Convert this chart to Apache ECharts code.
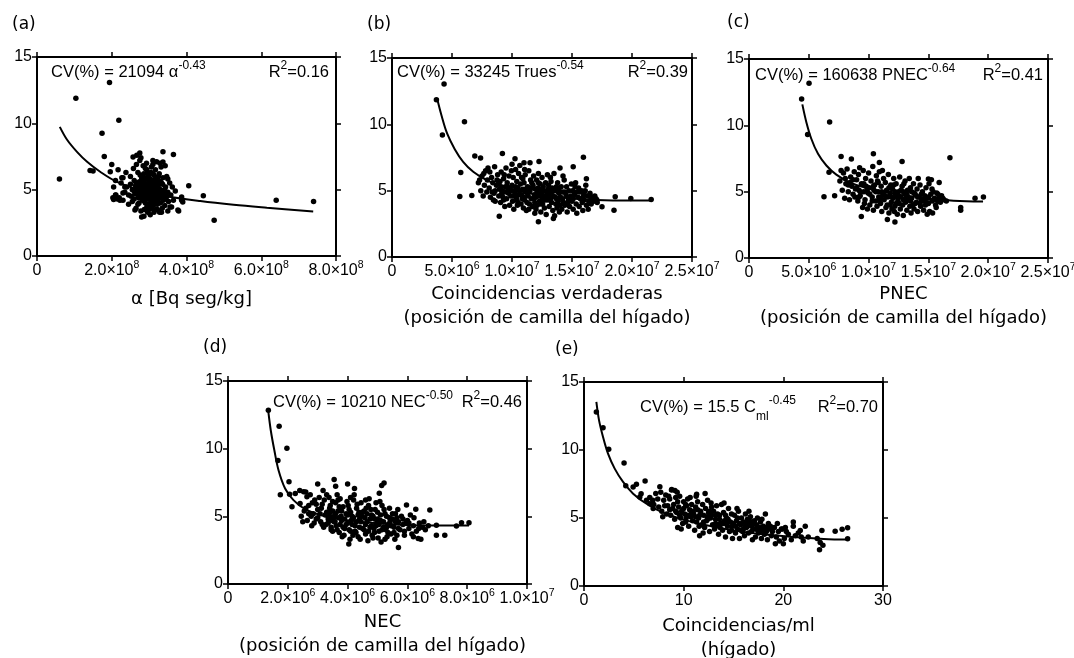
<!DOCTYPE html>
<html>
<head>
<meta charset="utf-8">
<script src="https://cdn.jsdelivr.net/npm/echarts/dist/echarts.min.js"></script>
<style>html,body{margin:0;padding:0;background:#fff}#c{width:1074px;height:658px}</style>
</head>
<body>
<div id="c"></div>
<script>
// ---------- DATA (x in units of the panel's unit, y = CV %) ----------
const unitA = 1e8, unitB = 1e6, unitC = 1e6, unitD = 1e6, unitE = 1;

const ptsA = [
 [0.6,5.8],[1.04,11.9],[1.94,13.07],[2.19,10.23],[1.74,9.25],[1.8,7.5],[1.42,6.45],[1.5,6.4],[2.0,6.9],[1.96,6.35],[2.1,5.7],
 [3.65,7.65],[3.37,7.85],[4.06,5.3],[4.45,4.55],[4.74,2.7],[6.4,4.2],[7.4,4.1],[3.87,4.45],[3.87,4.2],[3.79,3.4],[2.05,4.25],
 [2.17,6.5],[2.27,5.9],[2.03,4.4],[2.11,4.6],[2.22,4.2],[2.35,5.2],[2.3,4.75],[2.57,7.46],[2.67,7.6],[2.75,7.76],[3.1,7.2],
 [3.37,7.08],[3.5,5.8],[3.9,4.07],[3.77,3.47],[3.56,3.69],[2.8,2.94],[2.62,3.47],
 [2.2,4.4],[2.25,5.5],[2.3,4.2],[2.35,4.8],[2.4,5.2],[2.45,3.9],[2.5,6.0],[2.45,4.6],[2.3,5.9],[2.15,4.3],[2.38,6.3],[2.5,5.4],
 [2.55,4.1],[2.6,5.7],[2.62,4.7],[2.65,3.6],[2.7,6.3],[2.68,5.1],[2.72,4.4],[2.75,7.2],[2.78,3.4],[2.8,5.5],[2.58,6.6],[2.64,5.3],[2.7,3.9],[2.76,6.1],[2.8,4.9],[2.73,4.0],[2.66,6.9],[2.78,7.4],
 [2.82,4.2],[2.85,5.9],[2.86,3.0],[2.88,4.8],[2.9,6.6],[2.92,5.2],[2.94,3.7],[2.95,4.5],[2.97,6.0],[2.98,5.5],[2.84,6.8],[2.9,4.0],[2.96,3.3],[2.88,5.3],[2.93,7.0],[2.99,4.9],[2.83,5.1],[2.87,3.5],
 [3.0,4.3],[3.02,5.8],[3.03,3.1],[3.05,6.3],[3.07,4.7],[3.08,5.2],[3.1,3.8],[3.1,6.9],[3.12,4.9],[3.14,5.6],[3.15,4.1],[3.17,6.5],[3.18,3.5],[3.19,5.0],[3.01,5.0],[3.04,4.0],[3.06,6.7],[3.11,4.4],[3.13,3.3],[3.16,5.3],[3.2,7.1],[3.09,5.5],[3.0,6.1],[3.2,4.6],
 [3.22,3.9],[3.24,5.7],[3.25,4.4],[3.27,6.2],[3.28,3.3],[3.3,5.0],[3.3,4.0],[3.32,6.7],[3.34,4.7],[3.35,3.6],[3.36,5.4],[3.38,4.2],[3.23,4.9],[3.26,5.1],[3.29,7.0],[3.33,3.3],[3.37,5.9],[3.4,4.5],
 [3.42,3.8],[3.44,5.2],[3.45,4.3],[3.47,6.0],[3.5,4.8],[3.5,3.4],[3.52,4.1],[3.55,5.5],[3.58,4.6],[3.6,3.7],[3.48,4.5],[3.43,6.8],
 [2.1,4.6],[2.05,5.2],[2.6,4.3],[2.55,5.0],[3.65,4.2],[3.7,4.9],[3.62,5.2],
 [2.78,5.2],[2.82,4.6],[2.85,5.5],[2.88,4.1],[2.9,5.8],[2.92,4.4],[2.95,5.1],[2.97,4.7],[3.0,5.4],[3.02,4.5],[3.04,5.0],[3.06,4.2],[3.08,5.7],[3.1,4.9],[3.12,5.3],[3.14,4.6],[3.16,5.9],[3.18,4.3],[3.2,5.2],[3.22,4.7],[3.24,5.4],[3.26,4.5],[3.28,5.0],[3.3,5.6],
 [2.8,5.9],[2.84,4.4],[2.9,5.0],[2.96,6.3],[3.03,4.8],[3.07,3.6],[3.13,6.1],[3.19,4.0],[3.25,6.0],[3.15,3.9],[2.98,3.8],[3.05,5.3],[3.35,4.9],[3.33,5.5],[2.7,4.6],[2.74,5.6],[2.68,4.9],[2.65,5.5],[2.94,6.5],[3.0,3.5],[3.22,3.5],[3.1,6.2],[2.86,6.2],
 [2.86,5.7],[2.9,4.6],[2.94,5.4],[2.98,4.3],[3.01,5.6],[3.05,4.6],[3.09,5.0],[3.12,4.2],[3.15,5.4],[3.18,4.8],[3.21,5.6],[3.23,4.2],[3.27,4.8],[3.31,4.4],[2.83,4.8],[2.87,4.4],[2.93,4.8],[3.0,4.6],[3.06,5.1],[3.17,5.1],[3.13,4.6],[2.96,5.3],[3.26,5.5],[2.76,4.8],[2.72,5.3],[3.36,4.4],[3.41,5.0],[3.46,4.8],[2.6,4.9],[2.52,4.5]
];
const fitA = [[0.61,9.73],[0.80,8.78],[1.07,7.85],[1.34,7.10],[1.69,6.35],[2.14,5.59],[2.76,4.97],[3.47,4.51],[4.37,4.14],[5.26,3.86],[6.15,3.64],[7.39,3.36]];

const ptsB = [
 [3.70,11.86],[4.34,13.04],[4.2,9.2],[6.04,10.2],[5.73,6.37],[5.65,4.56],[6.9,7.62],[7.38,7.47],[6.65,4.64],[8.94,3.08],[9.2,7.8],[10.25,7.4],[15.95,7.52],[12.25,7.2],[11.0,7.1],[11.5,7.1],[15.1,6.8],[16.2,5.9],[18.6,4.55],[18.5,3.53],[19.9,4.41],[21.6,4.34],[17.5,3.78],[12.2,2.66],[13.45,2.9],[17.07,4.3],[16.56,4.54],
 [7.2,5.6],[7.4,5.0],[7.5,6.1],[7.6,4.6],[7.7,5.4],[7.8,6.5],[7.9,4.9],[7.3,5.8],[7.65,6.3],[7.95,5.8],
 [8.0,6.7],[8.1,5.2],[8.2,4.5],[8.3,6.0],[8.4,5.6],[8.5,4.8],[8.55,6.8],[8.6,4.2],[8.7,5.4],[8.8,6.2],[8.9,4.6],[8.95,5.1],[8.15,6.4],[8.35,4.9],[8.75,5.8],[8.45,4.3],
 [9.0,5.7],[9.05,4.1],[9.1,6.4],[9.2,5.0],[9.25,4.5],[9.3,5.9],[9.4,3.8],[9.45,5.3],[9.5,6.7],[9.55,4.4],[9.6,5.6],[9.7,4.8],[9.75,6.1],[9.8,3.9],[9.85,5.2],[9.9,4.6],[9.95,6.5],[9.15,4.8],[9.65,5.0],[9.35,6.2],
 [10.0,5.4],[10.05,4.2],[10.1,6.0],[10.15,3.6],[10.2,5.0],[10.3,6.6],[10.35,4.5],[10.4,5.7],[10.45,3.9],[10.5,5.2],[10.55,6.3],[10.6,4.7],[10.7,5.5],[10.75,4.0],[10.8,6.0],[10.85,4.4],[10.9,5.1],[10.95,3.7],[10.25,4.8],[10.65,6.9],[10.0,7.0],[10.4,4.3],
 [11.0,5.6],[11.05,4.3],[11.1,6.2],[11.15,4.9],[11.2,3.5],[11.3,5.3],[11.35,4.6],[11.4,6.5],[11.45,4.0],[11.5,5.0],[11.55,5.8],[11.6,4.4],[11.7,3.8],[11.75,5.4],[11.8,6.1],[11.85,4.7],[11.9,3.3],[11.95,5.1],[11.25,4.1],[11.65,5.6],[11.05,6.6],[11.4,3.6],
 [12.0,4.5],[12.05,5.8],[12.1,3.9],[12.15,5.2],[12.2,6.3],[12.3,4.2],[12.35,5.5],[12.4,3.4],[12.45,4.8],[12.5,6.0],[12.55,4.0],[12.6,5.3],[12.7,3.7],[12.75,4.6],[12.8,5.6],[12.85,3.2],[12.9,4.9],[12.95,6.2],[12.25,4.6],[12.65,5.0],[12.0,3.6],[12.5,4.3],
 [13.0,4.3],[13.05,5.4],[13.1,3.8],[13.15,4.9],[13.2,6.0],[13.3,4.1],[13.35,5.2],[13.4,3.5],[13.45,4.6],[13.5,6.3],[13.55,3.1],[13.6,5.0],[13.7,4.4],[13.75,3.7],[13.8,5.6],[13.85,4.2],[13.9,4.8],[13.95,3.4],[13.25,5.7],[13.65,4.0],[14.0,6.7],
 [14.05,4.5],[14.1,5.3],[14.15,3.6],[14.2,4.9],[14.3,4.1],[14.35,5.8],[14.4,3.9],[14.5,4.7],[14.55,5.3],[14.6,3.4],[14.7,4.3],[14.75,5.0],[14.8,3.8],[14.9,4.6],[14.95,5.5],[14.25,6.1],[14.65,4.0],
 [15.0,4.2],[15.05,5.0],[15.1,3.6],[15.2,4.7],[15.3,5.6],[15.35,4.0],[15.4,3.3],[15.5,4.5],[15.55,5.2],[15.6,3.8],[15.7,4.4],[15.8,5.0],[15.85,4.1],[15.9,3.5],[15.25,5.3],[15.65,4.9],[15.95,4.6],
 [16.0,4.3],[16.1,5.0],[16.2,3.9],[16.3,4.6],[16.4,4.2],[16.5,4.8],[16.6,4.0],[16.7,4.5],[16.8,4.2],[17.0,4.4],[17.1,4.1],[16.15,5.4],[16.35,3.6],
 [9.1,5.3],[9.4,4.9],[9.6,5.3],[9.9,5.0],[10.1,4.6],[10.3,5.3],[10.6,5.0],[10.8,4.7],[11.1,5.1],[11.3,4.8],[11.6,5.2],[11.8,4.4],[12.1,4.8],[12.3,5.1],[12.6,4.6],[12.8,4.3],[13.1,4.6],[13.3,4.9],[13.6,4.5],[13.9,5.1],[14.2,4.4],[14.5,4.0],[14.8,4.5],[15.1,4.4],[15.4,4.9],[10.5,4.1],[11.0,4.5],[11.9,4.1],[12.4,4.0],[13.2,4.4],[14.0,3.9],[8.6,5.0],[8.9,5.6],[9.3,4.3],[10.9,5.9],[12.2,5.6],[13.0,5.1],[13.7,5.3],[14.4,4.9],[16.0,4.8],[16.6,4.4],[16.9,4.6]
];
const fitB = [[3.76,11.94],[4.12,10.68],[4.59,9.31],[5.23,8.13],[5.93,7.17],[6.77,6.42],[7.88,5.79],[9.27,5.29],[11.22,4.84],[13.45,4.54],[16.23,4.34],[19.01,4.26],[21.60,4.26]];

const ptsC = [
 [4.40,11.98],[5.02,13.17],[4.9,9.3],[6.74,10.26],[6.69,6.46],[6.27,4.61],[7.16,4.69],[7.7,7.65],[8.56,7.47],[9.39,3.12],[10.4,7.85],[10.9,7.2],[12.8,7.27],[16.8,7.55],[18.9,4.51],[19.6,4.59],[17.7,3.8],[17.7,3.6],[12.2,2.71],[11.57,2.91],[15.9,5.7],[15.0,5.95],
 [7.6,5.8],[7.8,5.1],[7.9,6.4],[8.0,4.5],[8.1,5.6],[8.2,6.7],[8.3,5.0],[8.4,4.4],[8.5,6.1],[8.6,5.4],[8.7,4.8],[8.8,6.5],[8.9,5.2],[8.05,6.0],[8.45,5.7],[8.85,4.6],[7.7,6.6],
 [9.0,5.9],[9.1,4.3],[9.15,6.3],[9.2,5.1],[9.3,4.7],[9.4,5.6],[9.5,3.8],[9.55,6.6],[9.6,5.0],[9.7,4.4],[9.75,6.0],[9.8,5.4],[9.9,3.7],[9.95,4.9],[10.0,6.4],[10.05,5.3],[10.1,4.0],[10.2,5.8],[10.3,4.6],[10.35,6.9],[10.4,3.6],[10.45,5.1],[9.25,6.8],[9.65,4.1],
 [10.5,5.5],[10.6,4.3],[10.65,6.2],[10.7,3.9],[10.8,5.0],[10.85,4.6],[10.9,6.5],[11.0,4.1],[11.05,5.4],[11.1,3.5],[11.2,4.8],[11.25,6.0],[11.3,4.4],[11.4,5.7],[11.45,3.8],[11.5,5.1],[11.6,4.6],[11.65,6.3],[11.7,3.4],[11.8,4.9],[11.85,5.5],[11.9,4.2],[11.95,3.7],[10.75,5.8],[11.15,6.6],[11.55,4.0],
 [12.0,5.2],[12.05,4.5],[12.1,6.0],[12.2,3.9],[12.25,4.8],[12.3,5.6],[12.4,3.3],[12.45,4.3],[12.5,5.0],[12.6,6.1],[12.65,3.7],[12.7,4.6],[12.8,5.4],[12.85,4.0],[12.9,3.2],[13.0,4.9],[13.05,5.8],[13.1,4.2],[13.2,3.6],[13.25,5.1],[13.3,4.6],[13.4,6.0],[13.45,3.9],[12.15,3.5],[12.55,4.1],[12.95,5.6],[13.35,4.4],
 [13.5,5.3],[13.55,3.4],[13.6,4.5],[13.7,4.0],[13.75,5.6],[13.8,3.7],[13.9,4.8],[14.0,4.2],[14.05,5.2],[14.1,3.5],[14.2,4.6],[14.3,5.5],[14.35,3.9],[14.4,4.3],[14.5,5.0],[14.6,3.6],[14.7,4.7],[14.75,4.0],[14.8,5.3],[14.9,3.3],[14.95,4.5],[14.15,6.0],[14.55,4.4],
 [15.0,4.1],[15.05,5.6],[15.1,3.5],[15.2,4.8],[15.3,4.3],[15.35,3.4],[15.4,5.0],[15.5,4.5],[15.6,4.0],[15.7,4.9],[15.8,4.3],[15.9,4.6],[16.0,4.2],[16.1,4.7],[16.3,4.4],[16.5,4.3],[15.25,5.9],[15.65,3.8],
 [9.0,5.3],[9.3,5.0],[9.6,5.6],[9.9,5.2],[10.1,4.8],[10.4,5.4],[10.6,5.0],[10.9,4.4],[11.1,5.0],[11.4,4.7],[11.7,5.3],[11.9,4.6],[12.2,5.0],[12.4,4.6],[12.7,5.1],[12.9,4.4],[13.2,4.8],[13.5,4.3],[13.8,4.9],[14.1,4.6],[14.4,4.8],[14.7,4.3],[15.0,4.6],[15.3,5.2],[15.6,4.4],[10.3,4.3],[11.0,4.6],[11.8,4.0],[12.3,4.1],[13.1,4.5],[13.9,4.1],[8.3,5.5],[8.7,5.9],[9.2,4.6],[10.8,5.7],[12.1,5.5],[12.9,5.0],[13.6,5.0],[14.3,4.1],[15.8,4.8],[16.2,4.5]
];
const fitC = [[4.46,11.58],[4.79,10.26],[5.21,8.99],[5.77,7.85],[6.47,6.97],[7.30,6.28],[8.42,5.70],[9.81,5.27],[11.76,4.89],[13.99,4.59],[16.22,4.38],[18.17,4.28],[19.57,4.26]];

const ptsD = [
 [1.35,12.84],[1.71,11.66],[1.67,9.12],[1.97,10.03],[1.75,6.59],[2.04,7.55],[2.06,6.64],[2.14,5.7],[3.0,7.38],[3.55,7.72],[4.0,7.38],[4.23,7.06],[5.06,6.71],[5.14,7.28],[5.22,7.47],[4.04,2.95],[5.7,2.70],[6.75,5.46],[6.97,4.35],[6.97,3.61],[7.25,3.61],[7.64,4.28],[7.81,4.52],[8.06,4.52],[6.36,3.37],[6.28,5.53],[5.97,5.83],[3.6,7.23],
 [2.25,6.69],[2.41,5.95],[2.53,6.81],[2.64,6.44],
 [2.45,5.0],[2.5,4.6],[2.55,5.4],[2.6,6.8],[2.65,4.7],[2.7,5.8],[2.75,6.6],[2.8,4.3],[2.85,5.2],[2.9,6.2],[2.95,4.8],[2.6,5.6],[2.78,5.0],[2.4,6.9],[2.88,4.5],
 [3.0,5.5],[3.05,6.4],[3.1,4.6],[3.15,5.9],[3.2,4.2],[3.25,5.1],[3.3,6.6],[3.35,4.8],[3.4,5.6],[3.45,4.0],[3.5,6.1],[3.08,5.2],[3.28,4.4],[3.42,5.3],[3.18,6.9],[3.48,4.7],
 [3.55,5.0],[3.6,6.0],[3.62,4.3],[3.68,5.4],[3.72,3.8],[3.75,6.3],[3.8,4.7],[3.85,5.7],[3.9,4.1],[3.95,5.2],[3.58,4.6],[3.78,5.0],[3.98,6.1],[3.88,3.6],[3.65,6.6],
 [4.0,4.5],[4.05,5.5],[4.1,3.9],[4.15,5.0],[4.2,6.2],[4.25,4.3],[4.3,5.6],[4.35,3.5],[4.4,4.8],[4.45,6.0],[4.5,4.1],[4.12,4.7],[4.28,3.8],[4.38,5.3],[4.48,5.0],[4.22,6.6],[4.08,3.3],
 [4.55,5.4],[4.6,3.7],[4.65,4.6],[4.7,5.8],[4.75,4.2],[4.8,5.1],[4.85,3.4],[4.9,4.8],[4.95,6.0],[4.58,4.9],[4.68,3.2],[4.78,5.5],[4.88,4.1],[4.98,4.5],[4.72,6.3],
 [5.0,5.3],[5.05,3.9],[5.1,4.7],[5.15,5.8],[5.2,4.2],[5.25,3.3],[5.3,5.0],[5.35,4.4],[5.4,5.6],[5.45,3.7],[5.5,4.8],[5.12,3.1],[5.28,4.0],[5.42,4.6],[5.08,6.1],
 [5.55,4.2],[5.6,5.2],[5.65,3.6],[5.7,4.6],[5.75,4.0],[5.8,5.0],[5.85,4.4],[5.9,3.9],[6.0,4.7],[6.05,4.1],[6.1,5.1],[6.2,4.3],[6.3,3.9],[6.4,4.5],[6.5,4.2],[6.6,4.0],[5.68,5.5],[5.95,4.5],[6.15,3.7],[6.45,3.3],
 [3.3,5.3],[3.35,4.5],[3.4,5.0],[3.45,4.2],[3.5,5.4],[3.55,4.6],[3.6,5.2],[3.65,4.0],[3.7,4.9],[3.75,4.4],[3.8,5.4],[3.85,4.2],[3.9,4.8],[3.95,4.4],[4.0,5.1],[4.05,4.0],[4.1,5.3],[4.15,4.4],[4.2,4.9],[4.25,3.9],[4.3,4.6],[4.35,5.1],[4.4,4.2],[4.45,4.6],[4.5,5.3],[4.55,4.0],[4.6,4.4],[4.65,5.2],[4.7,3.9],[4.75,4.8],[4.8,4.3],[4.85,5.0],[4.9,3.8],[4.95,4.3],[5.0,4.8],[5.05,4.4],[5.1,5.1],[5.15,4.0],[5.2,4.6],[5.25,5.2],[5.3,4.2],[5.35,3.8],[5.4,4.9],[5.45,4.3],[5.5,5.2],[5.55,3.8],[5.6,4.6],[5.65,4.9],[5.7,4.1],
 [3.42,5.8],[3.72,5.7],[4.02,5.8],[4.32,5.9],[4.62,5.6],[4.92,5.5],[5.22,5.5],[3.5,3.9],[3.82,3.5],[4.18,3.6],[4.42,3.3],[4.82,3.6],[5.02,3.4],[5.32,3.5],[5.58,3.3],[2.95,5.9],[3.12,5.6],[3.22,6.2],[2.7,5.2],[2.82,6.0],[3.0,4.9],[3.15,4.4],[3.38,6.4],[3.68,6.2],[4.1,6.4],[4.6,6.2],[5.85,4.8],[6.05,4.5],[6.22,4.9],[6.38,4.1],[6.55,4.6],[6.7,4.3],[5.9,3.6],[6.2,3.5]
];
const fitD = [[1.35,12.71],[1.43,11.36],[1.55,9.88],[1.69,8.41],[1.91,7.06],[2.19,6.20],[2.58,5.53],[3.19,5.04],[3.97,4.72],[4.97,4.48],[6.08,4.35],[7.20,4.33],[8.06,4.33]];

const ptsE = [
 [1.24,12.79],[1.91,11.64],[2.48,10.05],[4.02,9.04],[4.19,7.38],[5.26,7.48],[6.13,7.72],[5.73,6.79],[6.27,6.3],[7.61,7.3],[8.78,7.06],[9.12,7.03],[11.3,6.74],
 [23.63,2.67],[23.97,2.99],[23.87,4.09],[25.2,4.02],[25.9,4.17],[26.45,4.29],[26.45,3.48],[22.2,4.39],[21.7,4.09],[21.0,4.71],[19.9,4.19],[19.2,3.11],[20.0,3.11],
 [4.93,7.28],[5.6,6.54],[6.6,6.05],[6.94,5.69],[23.4,3.5],[23.7,3.2],
 [6.6,6.5],[7.0,6.0],[7.2,6.8],[7.4,6.4],[7.5,5.8],[7.7,6.9],[7.8,5.5],[8.0,6.3],[8.2,6.7],[8.3,5.3],[8.4,5.9],[8.6,6.4],[8.7,5.2],[8.8,7.1],[8.9,5.7],[7.9,5.1],[8.5,6.6],[6.9,6.3],
 [9.0,6.0],[9.1,4.9],[9.2,6.5],[9.3,5.4],[9.4,4.3],[9.5,5.8],[9.6,6.6],[9.7,5.0],[9.8,5.5],[9.9,4.6],[10.0,6.2],[10.1,5.3],[10.2,4.7],[10.3,5.9],[10.4,6.4],[10.5,4.4],[10.6,5.6],[10.7,5.1],[10.8,6.0],[10.9,4.8],[9.35,6.9],[9.75,4.2],[10.25,5.0],[10.65,6.5],[10.95,5.5],
 [11.0,5.3],[11.1,4.1],[11.2,5.8],[11.3,4.7],[11.4,6.2],[11.5,5.0],[11.6,3.7],[11.7,5.5],[11.8,4.5],[11.9,6.0],[12.0,5.2],[12.1,4.3],[12.2,5.7],[12.3,4.8],[12.4,6.3],[12.5,5.4],[12.6,4.0],[12.7,5.0],[12.8,5.8],[12.9,4.5],[11.25,6.6],[11.55,4.4],[11.95,3.9],[12.35,5.1],[12.75,6.1],[12.15,6.8],
 [13.0,5.5],[13.1,4.2],[13.2,4.9],[13.3,5.9],[13.4,4.5],[13.5,3.8],[13.6,5.2],[13.7,4.6],[13.8,6.0],[13.9,4.1],[14.0,5.4],[14.1,4.8],[14.2,3.6],[14.3,5.0],[14.4,4.4],[14.5,5.7],[14.6,4.0],[14.7,4.7],[14.8,5.3],[14.9,3.5],[13.25,5.2],[13.65,4.3],[14.05,6.1],[14.45,4.9],[14.85,4.4],
 [15.0,4.6],[15.1,5.2],[15.2,3.9],[15.3,4.8],[15.4,4.2],[15.5,5.5],[15.6,3.5],[15.7,4.5],[15.8,5.0],[15.9,4.0],[16.0,4.7],[16.1,3.7],[16.2,5.3],[16.3,4.3],[16.4,4.9],[16.5,3.9],[16.6,4.5],[16.7,5.1],[16.8,4.0],[16.9,3.4],[15.35,5.7],[15.75,4.1],[16.15,4.4],[16.55,5.5],[16.95,4.6],
 [17.0,4.2],[17.1,4.8],[17.2,3.6],[17.3,4.5],[17.4,5.0],[17.5,3.9],[17.6,4.3],[17.7,4.7],[17.8,3.5],[17.9,4.1],[18.0,4.4],[18.1,3.8],[18.2,5.3],[18.3,4.0],[18.4,3.4],[18.5,4.6],[18.6,4.2],[18.8,3.7],[18.9,4.0],[17.45,4.1],[17.85,4.9],[18.7,4.4],
 [19.1,4.3],[19.3,3.6],[19.5,4.0],[19.6,3.3],[19.8,4.2],[20.1,3.5],[20.3,4.0],[20.5,3.8],[20.8,3.4],[21.0,4.4],[21.2,3.7],[21.5,3.9],[21.8,3.6],[22.0,3.3],[22.5,3.6],[20.2,4.3],[19.4,4.6],
 [8.1,5.9],[8.6,5.6],[9.2,5.5],[9.6,5.2],[10.0,5.7],[10.4,5.2],[10.8,5.4],[11.2,5.1],[11.6,5.2],[12.0,4.7],[12.4,4.9],[12.8,5.2],[13.2,4.6],[13.6,4.9],[14.0,4.6],[14.4,4.7],[14.8,4.1],[15.2,4.4],[15.6,4.6],[16.0,4.2],[16.4,4.6],[16.8,4.4],[17.2,4.2],[17.6,4.0],[18.0,4.1],[18.4,4.3],[11.4,5.6],[12.6,5.5],[13.4,5.3],[14.2,5.2],[15.4,5.0],[16.6,4.8],[10.2,6.0],[9.4,6.2]
];
const fitE = [[1.24,13.53],[1.51,12.18],[1.91,10.96],[2.41,9.73],[3.08,8.63],[3.92,7.65],[4.93,6.79],[6.27,6.05],[7.94,5.39],[9.96,4.88],[12.30,4.46],[14.98,4.09],[18.00,3.80],[21.02,3.60],[24.04,3.46],[26.55,3.41]];

const yTicks = {min: 0, max: 15, interval: 5};
const panelLetters = ['(a)','(b)','(c)','(d)','(e)'];
const xNames = [
  'α [Bq seg/kg]',
  'Coincidencias verdaderas\n(posición de camilla del hígado)',
  'PNEC\n(posición de camilla del hígado)',
  'NEC\n(posición de camilla del hígado)',
  'Coincidencias/ml\n(hígado)'
];
const eqMain = ['CV(%) = 21094 α','CV(%) = 33245 Trues','CV(%) = 160638 PNEC','CV(%) = 10210 NEC','CV(%) = 15.5 C'];
const eqSub = ['','','','','ml'];
const eqExp = ['-0.43','-0.54','-0.64','-0.50','-0.45'];
const r2Vals = ['0.16','0.39','0.41','0.46','0.70'];

// ---------- LAYOUT ----------
const panels = [
  {pts: ptsA, fit: fitA, unit: unitA, xmax: 8e8, xint: 2e8, sci: true,
   grid: {left: 37, top: 57, width: 299, height: 199}, nameGap: 31,
   letter: [12, 15], eq: [51, 60], r2right: 329},
  {pts: ptsB, fit: fitB, unit: unitB, xmax: 2.5e7, xint: 5e6, sci: true,
   grid: {left: 392, top: 58, width: 300, height: 199}, nameGap: 25,
   letter: [367, 15], eq: [397, 60], r2right: 688},
  {pts: ptsC, fit: fitC, unit: unitC, xmax: 2.5e7, xint: 5e6, sci: true,
   grid: {left: 749, top: 59, width: 299, height: 199}, nameGap: 24,
   letter: [727, 13], eq: [755, 63], r2right: 1043},
  {pts: ptsD, fit: fitD, unit: unitD, xmax: 1e7, xint: 2e6, sci: true,
   grid: {left: 228, top: 381, width: 299, height: 203}, nameGap: 26,
   letter: [203, 338], eq: [273, 390], r2right: 522},
  {pts: ptsE, fit: fitE, unit: unitE, xmax: 30, xint: 10, sci: false,
   grid: {left: 584, top: 382, width: 299, height: 204}, nameGap: 28,
   letter: [555, 340], eq: [640, 395], r2right: 878}
];

const W = 1074;
const SANS = 'Liberation Sans, Arial, sans-serif';
const GOTH = 'DejaVu Sans, sans-serif';
const lineStyle = {color: '#000', width: 2};
const tickStyle = {show: true, length: 5, lineStyle: {color: '#000', width: 1.5}};

function sciLabel(v) {
  if (v === 0) return '{m|0}';
  const e = Math.floor(Math.log10(v) + 1e-9);
  const m = v / Math.pow(10, e);
  return '{m|' + m.toFixed(1) + '×10}{s|' + e + '}';
}
const labelRich = {
  m: {fontFamily: SANS, fontSize: 16, lineHeight: 22, verticalAlign: 'middle', color: '#000'},
  s: {fontFamily: SANS, fontSize: 10.5, verticalAlign: 'top', color: '#000'}
};
const annRich = {
  m: {fontFamily: SANS, fontSize: 16.5, lineHeight: 24, verticalAlign: 'middle', color: '#000'},
  s: {fontFamily: SANS, fontSize: 12, verticalAlign: 'top', color: '#000'},
  b: {fontFamily: SANS, fontSize: 12, verticalAlign: 'bottom', height: 4, color: '#000'}
};

const grids = [], xAxes = [], yAxes = [], series = [], titles = [];
panels.forEach((p, i) => {
  grids.push(Object.assign({containLabel: false, outerBoundsMode: 'none'}, p.grid));
  const common = {type: 'value', gridIndex: i, min: 0, max: p.xmax, interval: p.xint,
    axisLine: {show: true, onZero: false, lineStyle}, axisTick: tickStyle, splitLine: {show: false}};
  xAxes.push(Object.assign({}, common, {
    position: 'bottom',
    name: xNames[i], nameLocation: 'middle', nameGap: p.nameGap, nameMoveOverlap: false,
    nameTextStyle: {fontFamily: GOTH, fontSize: 18, lineHeight: 24, color: '#000', padding: [0, 0, 0, 10]},
    axisLabel: {show: true, margin: 4, hideOverlap: false, showMinLabel: true, showMaxLabel: true,
      formatter: p.sci ? sciLabel : (v => '{m|' + v + '}'), rich: labelRich, color: '#000'}
  }));
  xAxes.push(Object.assign({}, common, {position: 'top', axisLabel: {show: false}}));
  const ycommon = {type: 'value', gridIndex: i, min: yTicks.min, max: yTicks.max, interval: yTicks.interval,
    axisLine: {show: true, onZero: false, lineStyle}, axisTick: tickStyle, splitLine: {show: false}};
  yAxes.push(Object.assign({}, ycommon, {position: 'left',
    axisLabel: {show: true, margin: 5, fontFamily: SANS, fontSize: 16, color: '#000', showMinLabel: true, showMaxLabel: true}}));
  yAxes.push(Object.assign({}, ycommon, {position: 'right', axisLabel: {show: false}}));

  series.push({
    type: 'scatter', xAxisIndex: 2 * i, yAxisIndex: 2 * i,
    data: p.pts.map(d => [d[0] * p.unit, d[1]]),
    symbol: 'circle', symbolSize: 5.5, itemStyle: {color: '#000', opacity: 1},
    silent: true, animation: false
  });
  series.push({
    type: 'line', xAxisIndex: 2 * i, yAxisIndex: 2 * i,
    data: p.fit.map(d => [d[0] * p.unit, d[1]]),
    showSymbol: false, symbol: 'none', smooth: 0.35,
    lineStyle: {color: '#000', width: 2}, silent: true, animation: false, z: 3
  });

  titles.push({text: panelLetters[i], left: p.letter[0], top: p.letter[1], padding: 0,
    textStyle: {fontFamily: GOTH, fontSize: 17, lineHeight: 20, fontWeight: 'normal', color: '#000'}});
  const eqText = '{m|' + eqMain[i] + '}' + (eqSub[i] ? '{b|' + eqSub[i] + '}' : '') + '{s|' + eqExp[i] + '}';
  titles.push({text: eqText, left: p.eq[0], top: p.eq[1], padding: 0,
    textStyle: {fontWeight: 'normal', lineHeight: 24, rich: annRich}});
  titles.push({text: '{m|R}{s|2}{m|=' + r2Vals[i] + '}', right: W - p.r2right, top: p.eq[1], padding: 0,
    textStyle: {fontWeight: 'normal', lineHeight: 24, rich: annRich}});
});

const chart = echarts.init(document.getElementById('c'), null, {renderer: 'canvas'});
chart.setOption({
  backgroundColor: '#fff',
  animation: false,
  title: titles,
  grid: grids,
  xAxis: xAxes,
  yAxis: yAxes,
  series: series
});
</script>
</body>
</html>
